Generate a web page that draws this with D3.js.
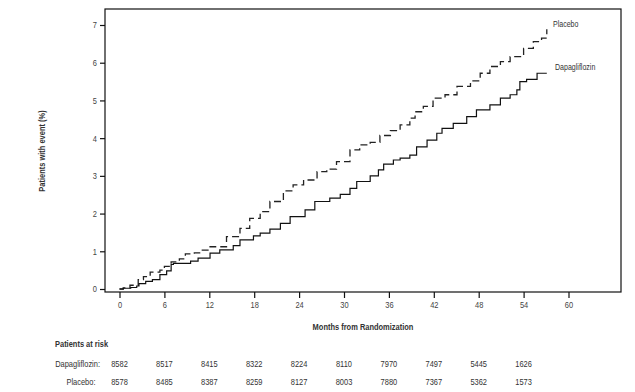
<!DOCTYPE html>
<html>
<head>
<meta charset="utf-8">
<script src="https://cdn.jsdelivr.net/npm/d3@7"></script>
<style>
  html, body { margin: 0; padding: 0; background: #fff; }
  svg { display: block; }
  text { font-family: "Liberation Sans", Arial, sans-serif; fill: #333; }
</style>
</head>
<body>
<svg id="chart" width="635" height="392"></svg>
<script>
// ---- Data ----
const placeboMonths = [0,0.5,1.4,2.5,3.2,4.1,5.4,6.0,6.9,8.0,8.8,10.0,10.8,12.1,14.3,16.1,17.4,18.8,20.1,21.9,23.2,24.6,26.4,27.7,29.0,30.8,32.1,33.5,34.8,36.2,37.5,38.8,39.5,40.6,41.9,43.5,45.1,46.9,48.2,49.5,50.9,52.2,54.0,55.3,56.4,57.1];
const placeboValues = [0,0.03,0.1,0.25,0.33,0.45,0.5,0.6,0.72,0.8,0.93,0.96,1.03,1.12,1.39,1.61,1.87,2.05,2.32,2.6,2.76,2.89,3.11,3.18,3.38,3.69,3.82,3.89,4.07,4.2,4.35,4.53,4.7,4.84,5.06,5.15,5.37,5.52,5.72,5.9,6.03,6.16,6.38,6.56,6.65,6.89];

const dapaMonths = [0,0.5,1.5,2.3,2.6,3.5,4.4,5.4,6.3,6.9,7.2,9.5,10.5,12.1,13.4,15.2,16.1,17.9,18.8,20.1,21.5,22.8,24.8,26.1,28.1,29.5,30.8,31.7,33.5,34.6,35.3,36.6,37.5,38.8,39.7,41.1,42.4,43.1,44.6,46.4,47.7,49.5,50.9,52.2,53.1,53.5,54.4,55.8,57.1];
const dapaValues = [0,0.02,0.04,0.08,0.14,0.2,0.25,0.38,0.48,0.65,0.68,0.74,0.82,0.95,1.04,1.15,1.3,1.41,1.48,1.59,1.74,1.92,2.1,2.32,2.41,2.51,2.67,2.85,3.0,3.16,3.31,3.42,3.47,3.55,3.77,3.95,4.13,4.26,4.39,4.57,4.75,4.88,5.06,5.15,5.28,5.5,5.56,5.72,5.72];

const xTicks = [0,6,12,18,24,30,36,42,48,54,60];
const yTicks = [0,1,2,3,4,5,6,7];

const riskMonths = [0,6,12,18,24,30,36,42,48,54];
const riskDapa = [8582,8517,8415,8322,8224,8110,7970,7497,5445,1626];
const riskPlacebo = [8578,8485,8387,8259,8127,8003,7880,7367,5362,1573];

const seriesNames = ["Placebo", "Dapagliflozin"];

// ---- Layout ----
const NARROW = 0.83;
const svg = d3.select("#chart");
const frame = {left: 105, right: 621, top: 9, bottom: 292};
const x = d3.scaleLinear().domain([0, 60]).range([119.5, 568.5]);
const y = d3.scaleLinear().domain([0, 7]).range([289, 25]);

function narrowText(parent, tx, ty, str, opts = {}) {
  const t = parent.append("text")
    .attr("transform", `translate(${tx},${ty}) scale(${NARROW},1)`)
    .attr("text-anchor", opts.anchor || "start")
    .style("font-size", (opts.size || 9) + "px")
    .text(str);
  if (opts.bold) t.style("font-weight", "bold");
  if (opts.fill) t.style("fill", opts.fill);
  return t;
}

// Frame
svg.append("rect")
  .attr("x", frame.left).attr("y", frame.top)
  .attr("width", frame.right - frame.left).attr("height", frame.bottom - frame.top)
  .attr("fill", "none").attr("stroke", "#111").attr("stroke-width", 1.2);

// Axes
const xAxis = d3.axisBottom(x).tickValues(xTicks).tickSize(6).tickPadding(4).tickFormat(d3.format("d"));
const gx = svg.append("g").attr("transform", `translate(0,${frame.bottom})`).call(xAxis);
gx.select(".domain").remove();
gx.selectAll("line").attr("stroke", "#111").attr("stroke-width", 1.2);
gx.selectAll("text")
  .attr("font-family", null).attr("font-size", null)
  .style("font-size", "9px").style("fill", "#444")
  .attr("transform", `scale(${NARROW},1)`);

const yAxis = d3.axisLeft(y).tickValues(yTicks).tickSize(5).tickPadding(3).tickFormat(d3.format("d"));
const gy = svg.append("g").attr("transform", `translate(${frame.left},0)`).call(yAxis);
gy.select(".domain").remove();
gy.selectAll("line").attr("stroke", "#111").attr("stroke-width", 1.2);
gy.selectAll("text")
  .style("font-size", "9px").style("fill", "#444")
  .attr("x", 0)
  .attr("transform", `translate(-8,0) scale(${NARROW},1)`);
gx.attr("font-family", null); gy.attr("font-family", null);
gx.attr("font-size", null); gy.attr("font-size", null);

// Axis titles
svg.append("text")
  .attr("transform", `translate(45,151) rotate(-90) scale(${NARROW},1)`)
  .attr("text-anchor", "middle")
  .style("font-size", "9px").style("font-weight", "bold")
  .text("Patients with event (%)");

narrowText(svg, (frame.left + frame.right) / 2, 330, "Months from Randomization", {anchor: "middle", bold: true});

// Lines
const stepLine = d3.line().x(d => x(d[0])).y(d => y(d[1])).curve(d3.curveStepAfter);
const placeboData = placeboMonths.map((m, i) => [m, placeboValues[i]]);
const dapaData = dapaMonths.map((m, i) => [m, dapaValues[i]]);

svg.append("path").datum(placeboData)
  .attr("d", stepLine).attr("fill", "none")
  .attr("stroke", "#222").attr("stroke-width", 1.3)
  .attr("stroke-dasharray", "7,4");

svg.append("path").datum(dapaData)
  .attr("d", stepLine).attr("fill", "none")
  .attr("stroke", "#111").attr("stroke-width", 1.2);

// Legend labels
narrowText(svg, 553, 27, seriesNames[0], {size: 8.5});
narrowText(svg, 555, 70, seriesNames[1], {size: 8.5});

// Patients at risk
narrowText(svg, 55, 347, "Patients at risk", {bold: true});
narrowText(svg, 100, 367, seriesNames[1] + ":", {anchor: "end"});
narrowText(svg, 95.5, 385, seriesNames[0] + ":", {anchor: "end"});

const gr1 = svg.append("g");
riskMonths.forEach((m, i) => narrowText(gr1, x(m), 367, riskDapa[i], {anchor: "middle"}));
const gr2 = svg.append("g");
riskMonths.forEach((m, i) => narrowText(gr2, x(m), 385, riskPlacebo[i], {anchor: "middle"}));
</script>
</body>
</html>
